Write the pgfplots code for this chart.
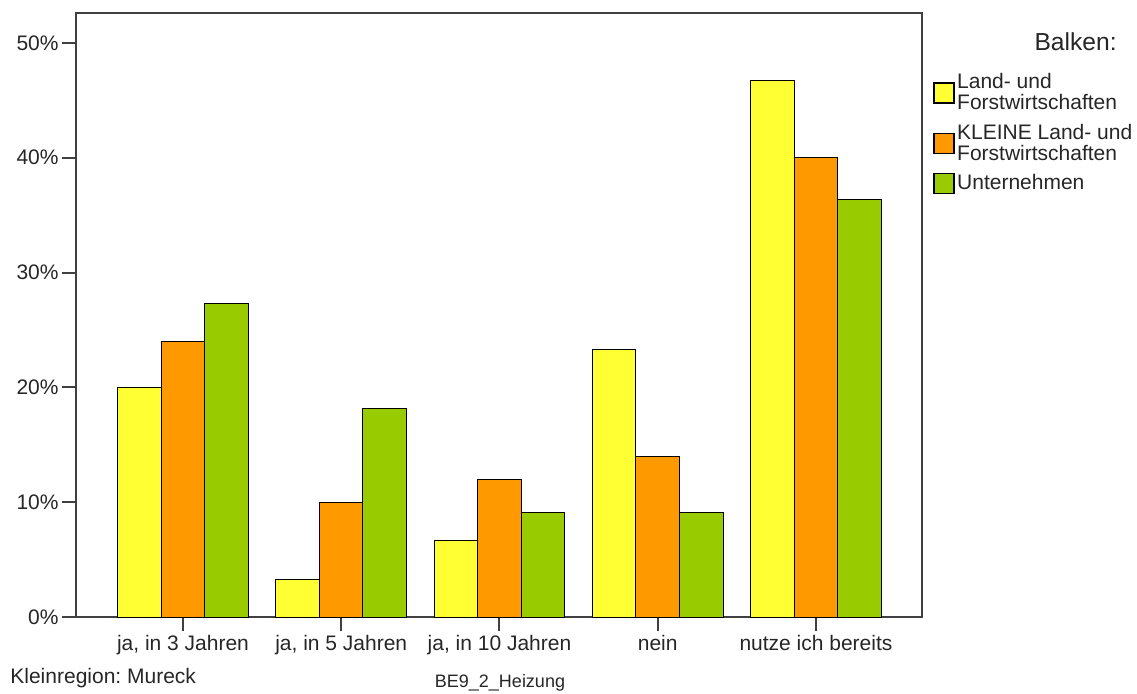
\documentclass[border=0pt]{standalone}
\usepackage{pgfplots}
\pgfplotsset{compat=1.18}
\usepackage{fontspec}
\setmainfont{Liberation Sans}
\frenchspacing
\definecolor{cyel}{HTML}{FFFF33}
\definecolor{cora}{HTML}{FF9900}
\definecolor{cgre}{HTML}{99CC00}
\begin{document}
\begin{tikzpicture}
\begin{axis}[
  scale only axis,
  width=423pt, height=302pt,
  at={(0,0)}, anchor=south west,
  xmin=-0.676, xmax=4.67,
  ymin=0, ymax=52.6,
  ybar=0pt,
  bar width=0.275,
  xtick={0,1,2,3,4},
  xticklabels={{ja, in 3 Jahren},{ja, in 5 Jahren},{ja, in 10 Jahren},{nein},{nutze ich bereits}},
  ytick={0,10,20,30,40,50},
  yticklabels={0\%,10\%,20\%,30\%,40\%,50\%},
  tick align=outside,
  xtick pos=bottom, ytick pos=left,
  major tick length=7pt,
  tick style={black!75, line width=1pt},
  axis line style={black!75, line width=1pt},
  ticklabel style={font=\fontsize{10.5}{12}\selectfont, text=black!85},
  yticklabel style={inner sep=1.5pt},
  xticklabel style={inner sep=2pt},
  legend style={at={(axis description cs:1.013,0.905)}, anchor=north west,
    draw=none, fill=none, inner sep=0pt, row sep=3pt,
    cells={align=left, anchor=west},
    font=\fontsize{10.5}{10.5}\selectfont, text=black!85,
    nodes={inner sep=1.3pt}},
  legend image code/.code={\draw[#1, draw=black, line width=0.6pt] (0pt,-5pt) rectangle (10pt,5pt);},
]
\addplot[fill=cyel, draw=black, line width=0.5pt, bar shift=-0.275] coordinates {(0,20.0) (1,3.3) (2,6.7) (3,23.3) (4,46.7)};
\addplot[fill=cora, draw=black, line width=0.5pt, bar shift=0] coordinates {(0,24.0) (1,10.0) (2,12.0) (3,14.0) (4,40.0)};
\addplot[fill=cgre, draw=black, line width=0.5pt, bar shift=0.275] coordinates {(0,27.3) (1,18.2) (2,9.1) (3,9.1) (4,36.4)};
\legend{{Land- und\\Forstwirtschaften},{KLEINE Land- und\\Forstwirtschaften},{Unternehmen}}
\end{axis}
\node[anchor=east, inner sep=0pt, font=\fontsize{12.3}{14}\selectfont, text=black!85] at (520.5pt,287.5pt) {Balken:};
\node[anchor=west, inner sep=0pt, font=\fontsize{10.5}{12}\selectfont, text=black!85] at (-33pt,-30.5pt) {Kleinregion: Mureck};
\node[anchor=center, inner sep=0pt, font=\fontsize{9}{11}\selectfont, text=black!85] at (212pt,-33pt) {BE9\_2\_Heizung};
\pgfresetboundingbox
\useasboundingbox (-38pt,-38pt) rectangle (530.5pt,308.5pt);
\end{tikzpicture}
\end{document}
